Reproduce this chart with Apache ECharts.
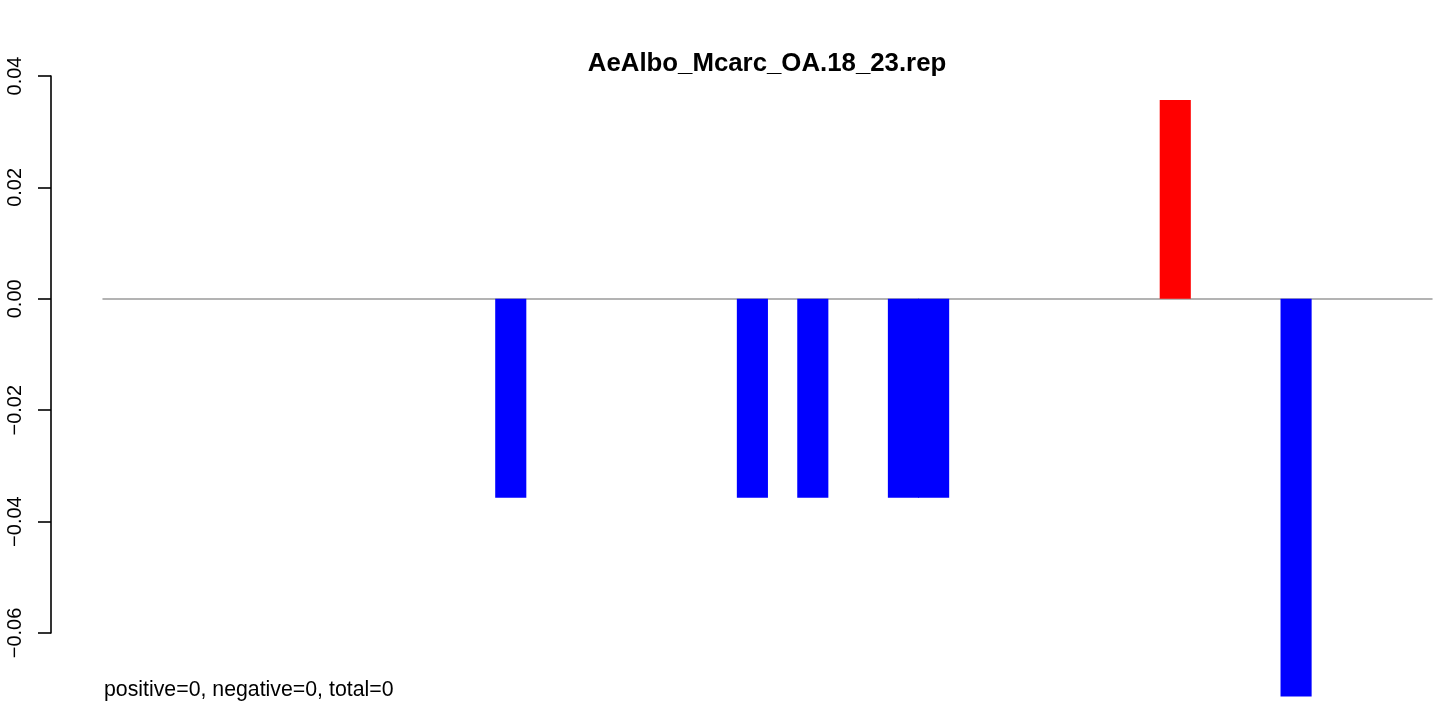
<!DOCTYPE html>
<html>
<head>
<meta charset="utf-8">
<script src="https://cdn.jsdelivr.net/npm/echarts@6/dist/echarts.min.js"></script>
<style>html,body{margin:0;padding:0;background:#fff;}#c{width:1439px;height:701px;}</style>
</head>
<body>
<div id="c"></div>
<script>
var titleText = 'AeAlbo_Mcarc_OA.18_23.rep';
var footerText = 'positive=0, negative=0, total=0';
var categories = [];
for (var i = 1; i <= 44; i++) categories.push(String(i));
var values = [
  0, 0, 0, 0, 0, 0, 0, 0, 0, 0,
  0, 0, 0, -0.0357, 0, 0, 0, 0, 0, 0,
  0, -0.0357, 0, -0.0357, 0, 0, -0.0357, -0.0357, 0, 0,
  0, 0, 0, 0, 0, 0.0357, 0, 0, 0, -0.0714,
  0, 0, 0, 0
];
var yTicks = [-0.06, -0.04, -0.02, 0, 0.02, 0.04];

var FONT = 'Liberation Sans, Arial, Helvetica, sans-serif';
var chart = echarts.init(document.getElementById('c'), null, {renderer: 'canvas'});
chart.setOption({
  animation: false,
  backgroundColor: '#ffffff',
  grid: {left: 103, right: 7, top: 76, height: 557, containLabel: false},
  xAxis: {
    type: 'category',
    data: categories,
    axisLine: {show: true, onZero: true, lineStyle: {color: '#9a9a9a', width: 1.5}},
    axisTick: {show: false},
    axisLabel: {show: false},
    splitLine: {show: false}
  },
  yAxis: {
    type: 'value',
    min: yTicks[0],
    max: yTicks[yTicks.length - 1],
    interval: 0.02,
    offset: 52,
    axisLine: {show: true, lineStyle: {color: '#000', width: 1.6}},
    axisTick: {show: true, length: 13, lineStyle: {color: '#000', width: 1.6}},
    splitLine: {show: false},
    axisLabel: {
      rotate: 90,
      margin: 26,
      fontSize: 20,
      fontFamily: FONT,
      color: '#000',
      formatter: function (v) {
        if (Math.abs(v) < 1e-9) return '0.00';
        return (v < 0 ? '\u2212' : '') + Math.abs(v).toFixed(2);
      }
    }
  },
  series: [{
    type: 'bar',
    data: values,
    barWidth: '103%',
    barCategoryGap: 0,
    clip: false,
    itemStyle: {
      color: function (p) { return p.value > 0 ? '#ff0000' : '#0000ff'; }
    }
  }],
  graphic: [
    {type: 'text', x: 767, y: 64, silent: true,
     style: {text: titleText, font: 'bold 25.8px ' + FONT, fill: '#000', textAlign: 'center', textVerticalAlign: 'middle'}},
    {type: 'text', x: 104, y: 690, silent: true,
     style: {text: footerText, font: '21.3px ' + FONT, fill: '#000', textAlign: 'left', textVerticalAlign: 'middle'}}
  ]
});
</script>
</body>
</html>
